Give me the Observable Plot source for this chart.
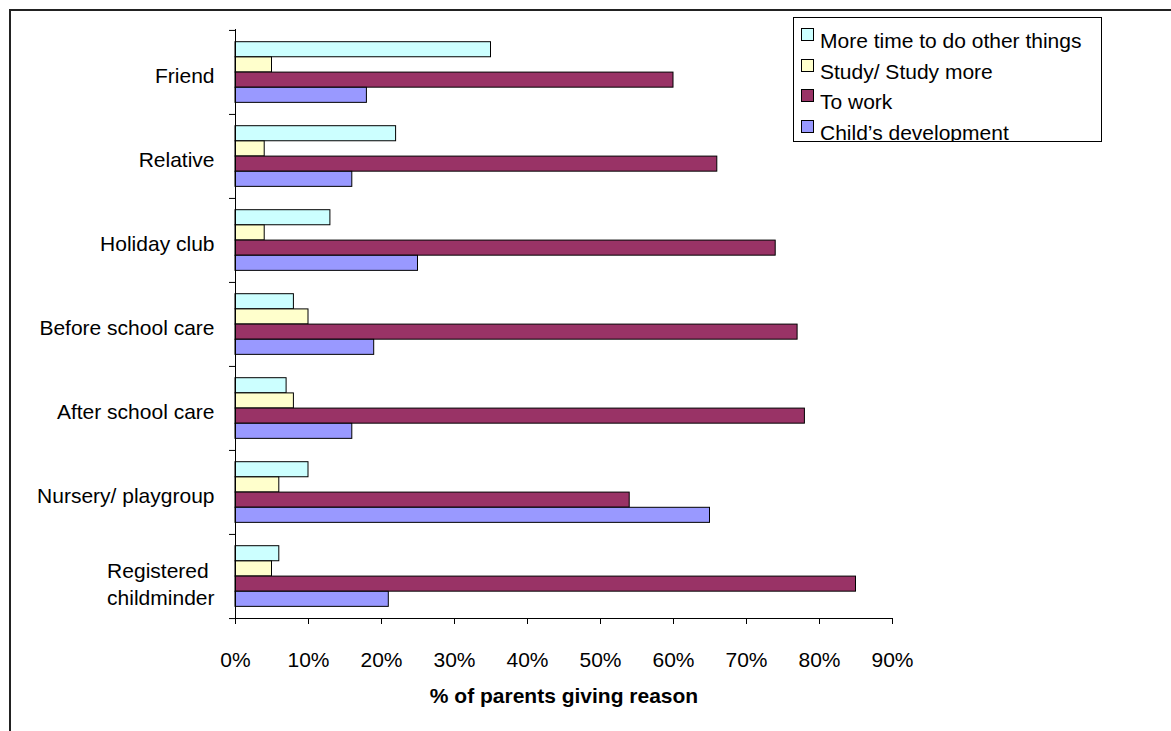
<!DOCTYPE html>
<html>
<head>
<meta charset="utf-8">
<script src="https://cdn.jsdelivr.net/npm/d3@7"></script>
<script src="https://cdn.jsdelivr.net/npm/@observablehq/plot@0.6"></script>
<style>
  html, body { margin: 0; padding: 0; background: #fff; }
  body { font-family: "Liberation Sans", Arial, sans-serif; }
  #wrap { position: relative; width: 1171px; height: 731px; overflow: hidden; background: #fff; }
  #chart { position: absolute; left: 0; top: 0; }
  #border { position: absolute; left: 9px; top: 9px; right: -10px; bottom: -10px;
            border-left: 2px solid #222; border-top: 2px solid #222; pointer-events: none; }
  #legend { position: absolute; left: 793px; top: 17px; width: 307px; height: 123px;
            border: 1px solid #000; overflow: hidden; background: #fff; }
  .item { position: absolute; left: 0; height: 30px; width: 300px; }
  .sw { position: absolute; left: 7px; width: 11px; height: 11px; border: 1px solid #000; }
  .lab { position: absolute; left: 26px; font-size: 21px; line-height: 21px; white-space: nowrap; color: #000; }
</style>
</head>
<body>
<div id="wrap">
  <div id="chart"></div>
  <div id="border"></div>
  <div id="legend"></div>
</div>
<script>
// ---- data ----
const categories = ["Friend", "Relative", "Holiday club", "Before school care",
                    "After school care", "Nursery/ playgroup", "Registered childminder"];
const series = ["More time to do other things", "Study/ Study more", "To work", "Child\u2019s development"];
const moreTime = [35, 22, 13, 8, 7, 10, 6];
const studyMore = [5, 4, 4, 10, 8, 6, 5];
const toWork = [60, 66, 74, 77, 78, 54, 85];
const childDev = [18, 16, 25, 19, 16, 65, 21];
const xTicks = [0, 10, 20, 30, 40, 50, 60, 70, 80, 90];
const colors = ["#CCFFFF", "#FFFFCC", "#993366", "#9999FF"];
const xTitle = "% of parents giving reason";

const seriesValues = [moreTime, studyMore, toWork, childDev];
const rows = [];
seriesValues.forEach((vals, si) => {
  vals.forEach((v, ci) => rows.push({category: categories[ci], series: series[si], value: v}));
});

// ---- layout ----
const W = 1171, H = 731;
const mTop = 29, mBottom = 113, mLeft = 235, mRight = 279;
const band = (H - mTop - mBottom) / categories.length;
const barH = 15.2, padTop = 11.7;

const fontFamily = '"Liberation Sans", Arial, sans-serif';
const lastCat = categories[categories.length - 1];

const barMarks = series.map((s, i) =>
  Plot.barX(rows.filter(d => d.series === s), {
    x: "value", y: "category", fill: colors[i], stroke: "#000", strokeWidth: 1,
    insetTop: padTop + i * barH,
    insetBottom: band - padTop - (i + 1) * barH
  })
);

const plot = Plot.plot({
  width: W, height: H,
  marginTop: mTop, marginBottom: mBottom, marginLeft: mLeft, marginRight: mRight,
  style: {fontFamily, fontSize: "21px", color: "#000", background: "transparent"},
  x: {domain: [0, 90]},
  y: {domain: categories, padding: 0},
  marks: [
    ...barMarks,
    Plot.ruleX([0], {stroke: "#000"}),
    Plot.frame({anchor: "bottom", stroke: "#000"}),
    Plot.axisX(xTicks, {tickSize: 6, tickPadding: 28, tickFormat: d => d + "%", label: null, stroke: "#000"}),
    Plot.axisY(categories.slice(0, -1), {tickSize: 0, tickPadding: 21, label: null, dy: 4}),
    Plot.axisY([lastCat], {tickSize: 0, tickPadding: 21, label: null, dy: 6,
                tickFormat: d => d.replace(" ", " \n"), lineHeight: 1.3}),
    Plot.axisY({tickSize: 6, fill: "none", label: null, dy: -band / 2, stroke: "#000"}),
    Plot.axisY([lastCat], {tickSize: 6, fill: "none", label: null, dy: band / 2, stroke: "#000"}),
    Plot.text([xTitle], {text: d => d, frameAnchor: "bottom", dy: 84, fontWeight: "bold", fontSize: 21})
  ]
});
document.getElementById("chart").appendChild(plot);

// ---- legend ----
const legend = document.getElementById("legend");
series.forEach((s, i) => {
  const item = document.createElement("div");
  item.className = "item";
  item.style.top = (i * 30.5) + "px";
  const sw = document.createElement("div");
  sw.className = "sw";
  sw.style.top = "10px";
  sw.style.background = colors[i];
  const lab = document.createElement("div");
  lab.className = "lab";
  lab.style.top = "12px";
  lab.textContent = s;
  item.appendChild(sw);
  item.appendChild(lab);
  legend.appendChild(item);
});
</script>
</body>
</html>
